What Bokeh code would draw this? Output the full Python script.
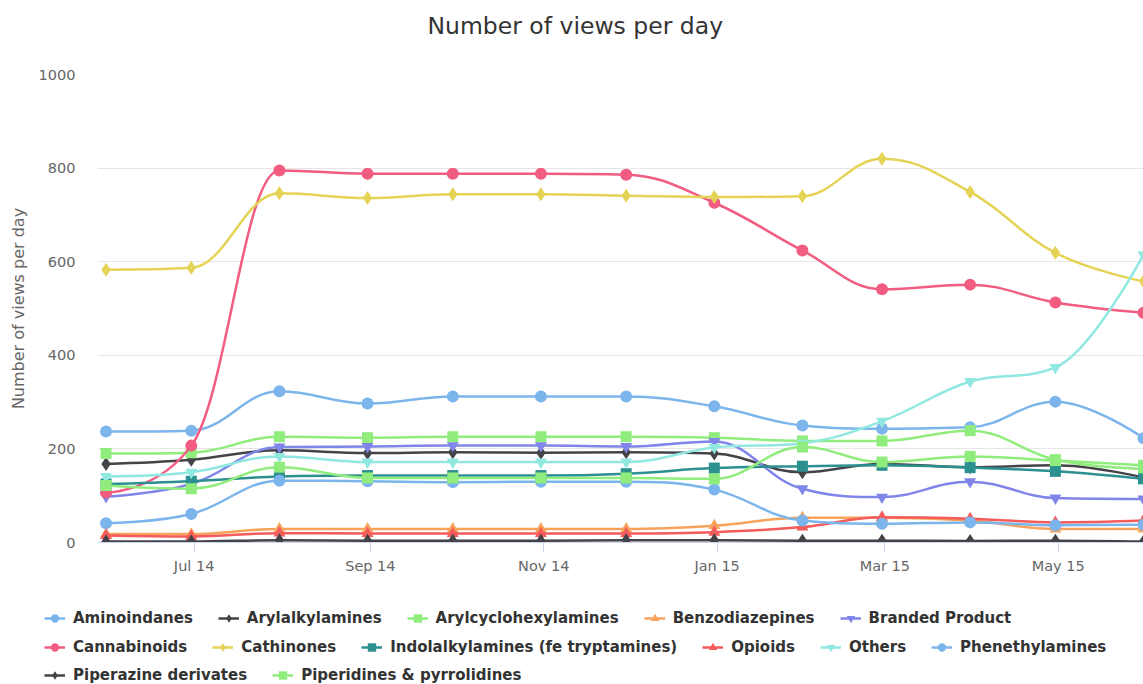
import numpy as np
from bokeh.plotting import figure
from bokeh.layouts import column
from bokeh.models import Range1d, FixedTicker, DatetimeTickFormatter, Legend, LegendItem, Label
from bokeh.embed import file_html
from bokeh.resources import INLINE

# ---------------- data ----------------
months = ["2014-05-31", "2014-06-30", "2014-07-31", "2014-08-31", "2014-09-30",
          "2014-10-31", "2014-11-30", "2014-12-31", "2015-01-31", "2015-02-28",
          "2015-03-31", "2015-04-30", "2015-05-31"]
tick_dates = ["2014-07-01", "2014-09-01", "2014-11-01", "2015-01-01", "2015-03-01", "2015-05-01"]
y_ticks = [0, 200, 400, 600, 800, 1000]

series_names = ["Aminoindanes", "Arylalkylamines", "Arylcyclohexylamines", "Benzodiazepines",
                "Branded Product", "Cannabinoids", "Cathinones", "Indolalkylamines (fe tryptamines)",
                "Opioids", "Others", "Phenethylamines", "Piperazine derivates",
                "Piperidines & pyrrolidines"]

aminoindanes = [237, 239, 323, 297, 312, 312, 312, 291, 250, 243, 246, 301, 223]
arylalkylamines = [168, 177, 197, 191, 193, 192, 193, 190, 150, 168, 161, 165, 139]
arylcyclohexylamines = [190, 192, 226, 224, 226, 226, 226, 224, 217, 217, 239, 177, 157]
benzodiazepines = [18, 18, 29, 29, 29, 29, 29, 36, 53, 53, 47, 29, 29]
branded_product = [98, 125, 204, 205, 207, 207, 205, 216, 115, 97, 130, 95, 93]
cannabinoids = [107, 207, 795, 788, 788, 788, 786, 726, 624, 541, 551, 513, 491]
cathinones = [583, 587, 746, 736, 744, 744, 741, 738, 740, 820, 749, 619, 558]
indolalkylamines = [125, 131, 141, 143, 143, 143, 147, 159, 163, 165, 160, 152, 136]
opioids = [15, 13, 20, 19, 19, 19, 19, 22, 33, 54, 51, 43, 47]
others = [141, 150, 184, 172, 172, 172, 172, 203, 212, 259, 344, 374, 615]
phenethylamines = [41, 61, 132, 131, 129, 130, 130, 113, 47, 40, 43, 37, 38]
piperazine = [2, 2, 5, 4, 4, 4, 5, 5, 4, 4, 3, 4, 2]
piperidines = [122, 115, 161, 138, 138, 138, 138, 136, 204, 172, 184, 175, 165]

series_values = [aminoindanes, arylalkylamines, arylcyclohexylamines, benzodiazepines,
                 branded_product, cannabinoids, cathinones, indolalkylamines, opioids,
                 others, phenethylamines, piperazine, piperidines]

# ---------------- styles ----------------
palette = ["#7cb5ec", "#434348", "#90ed7d", "#f7a35c", "#8085e9",
           "#f15c80", "#e4d354", "#2b908f", "#f45b5b", "#91e8e1"]
marker_cycle = ["circle", "diamond", "square", "triangle", "inverted_triangle"]
marker_size = {"circle": 12, "diamond": 14, "square": 11, "triangle": 12, "inverted_triangle": 12}
legend_rows = [[0, 1, 2, 3, 4], [5, 6, 7, 8, 9, 10], [11, 12]]

FONT = "DejaVu Sans"


def to_ms(dates):
    return np.array(dates, dtype="datetime64[ms]").astype("int64").astype(float)


def spline_segments(xs, ys, smoothing=1.5):
    """Highcharts-style spline: cubic bezier control points for each segment."""
    n = len(xs)
    lc = [(xs[i], ys[i]) for i in range(n)]
    rc = [(xs[i], ys[i]) for i in range(n)]
    d = smoothing + 1
    for i in range(1, n - 1):
        lx, ly = xs[i - 1], ys[i - 1]
        px, py = xs[i], ys[i]
        nx, ny = xs[i + 1], ys[i + 1]
        lcx = (smoothing * px + lx) / d
        lcy = (smoothing * py + ly) / d
        rcx = (smoothing * px + nx) / d
        rcy = (smoothing * py + ny) / d
        if rcx != lcx:
            corr = ((rcy - lcy) * (rcx - px)) / (rcx - lcx) + py - rcy
            lcy += corr
            rcy += corr
        if lcy > ly and lcy > py:
            lcy = max(ly, py)
            rcy = 2 * py - lcy
        elif lcy < ly and lcy < py:
            lcy = min(ly, py)
            rcy = 2 * py - lcy
        if rcy > ny and rcy > py:
            rcy = max(ny, py)
            lcy = 2 * py - rcy
        elif rcy < ny and rcy < py:
            rcy = min(ny, py)
            lcy = 2 * py - rcy
        lc[i] = (lcx, lcy)
        rc[i] = (rcx, rcy)
    seg = dict(x0=[], y0=[], x1=[], y1=[], cx0=[], cy0=[], cx1=[], cy1=[])
    for i in range(1, n):
        seg["x0"].append(xs[i - 1]); seg["y0"].append(ys[i - 1])
        seg["x1"].append(xs[i]); seg["y1"].append(ys[i])
        seg["cx0"].append(rc[i - 1][0]); seg["cy0"].append(rc[i - 1][1])
        seg["cx1"].append(lc[i][0]); seg["cy1"].append(lc[i][1])
    return seg


def strip(height):
    f = figure(width=1143, height=height, x_range=Range1d(0, 1), y_range=Range1d(0, 1),
               x_axis_location=None, y_axis_location=None,
               output_backend="svg", toolbar_location=None,
               min_border_left=0, min_border_right=0, min_border_top=0, min_border_bottom=0)
    f.grid.grid_line_color = None
    f.outline_line_color = None
    f.frame_align = False
    return f


x = to_ms(months)
day = 86400000.0

# ---------------- title strip ----------------
tf = strip(50)
tf.add_layout(Label(x=427, y=25, x_units="screen", y_units="screen",
                    text="Number of views per day", text_font=FONT, text_font_size="23.5px",
                    text_color="#333333", text_align="left", text_baseline="middle"))

# ---------------- main chart ----------------
p = figure(width=1143, height=538, x_axis_type="datetime",
           x_range=Range1d(x[0] - 3 * day, x[-1]), y_range=Range1d(0, 1000),
           output_backend="svg", toolbar_location=None,
           min_border_left=97, min_border_top=24, min_border_bottom=46, min_border_right=0)
p.frame_align = False
p.outline_line_color = None
p.background_fill_color = "white"

xa = p.xaxis[0]
xa.ticker = FixedTicker(ticks=list(to_ms(tick_dates)))
xa.formatter = DatetimeTickFormatter(months="%b %y", days="%b %y", years="%b %y")
xa.axis_line_color = "#ccd6eb"
xa.major_tick_line_color = "#ccd6eb"
xa.major_tick_out = 10
xa.major_tick_in = 0
xa.minor_tick_line_color = None
xa.major_label_text_font = FONT
xa.major_label_text_font_size = "14.5px"
xa.major_label_text_color = "#666666"
xa.major_label_standoff = 5

ya = p.yaxis[0]
ya.ticker = FixedTicker(ticks=y_ticks)
ya.axis_line_color = None
ya.major_tick_line_color = None
ya.minor_tick_line_color = None
ya.major_tick_out = 0
ya.major_tick_in = 0
ya.major_label_text_font = FONT
ya.major_label_text_font_size = "14.5px"
ya.major_label_text_color = "#666666"
ya.major_label_standoff = 22
ya.axis_label = "Number of views per day"
ya.axis_label_text_font = FONT
ya.axis_label_text_font_size = "16px"
ya.axis_label_text_font_style = "normal"
ya.axis_label_text_color = "#666666"
ya.axis_label_standoff = 8

p.xgrid.grid_line_color = None
p.ygrid.ticker = FixedTicker(ticks=y_ticks)
p.ygrid.grid_line_color = "#e6e6e6"

# ---------------- legend strip ----------------
lg = strip(96)

items = []
for i, (name, vals) in enumerate(zip(series_names, series_values)):
    color = palette[i % len(palette)]
    marker = marker_cycle[i % len(marker_cycle)]
    seg = spline_segments(list(x), [float(v) for v in vals])
    p.bezier(source=seg, x0="x0", y0="y0", x1="x1", y1="y1",
             cx0="cx0", cy0="cy0", cx1="cx1", cy1="cy1",
             line_color=color, line_width=2.5)
    p.scatter(x=x, y=vals, marker=marker, size=marker_size[marker],
              fill_color=color, line_color=color, line_width=0)
    # the same series in the legend strip (out of its view), used only for legend swatches
    ln = lg.line(x=x, y=vals, line_color=color, line_width=2.5)
    mk = lg.scatter(x=x, y=vals, marker=marker, size=marker_size[marker],
                    fill_color=color, line_color=color, line_width=0)
    items.append(LegendItem(label=name, renderers=[ln, mk]))

row_bottoms = [52, 23, -5]
for r, idxs in enumerate(legend_rows):
    leg = Legend(items=[items[k] for k in idxs], orientation="horizontal",
                 location=(44, row_bottoms[r]), spacing=25, glyph_width=21, glyph_height=28,
                 label_height=28, label_standoff=8, padding=0, margin=0,
                 border_line_color=None, background_fill_alpha=0,
                 label_text_font=FONT, label_text_font_style="bold",
                 label_text_font_size="15px", label_text_color="#333333")
    lg.add_layout(leg)

layout = column(tf, p, lg, spacing=0)
open("out.html", "w").write(file_html(layout, INLINE))
